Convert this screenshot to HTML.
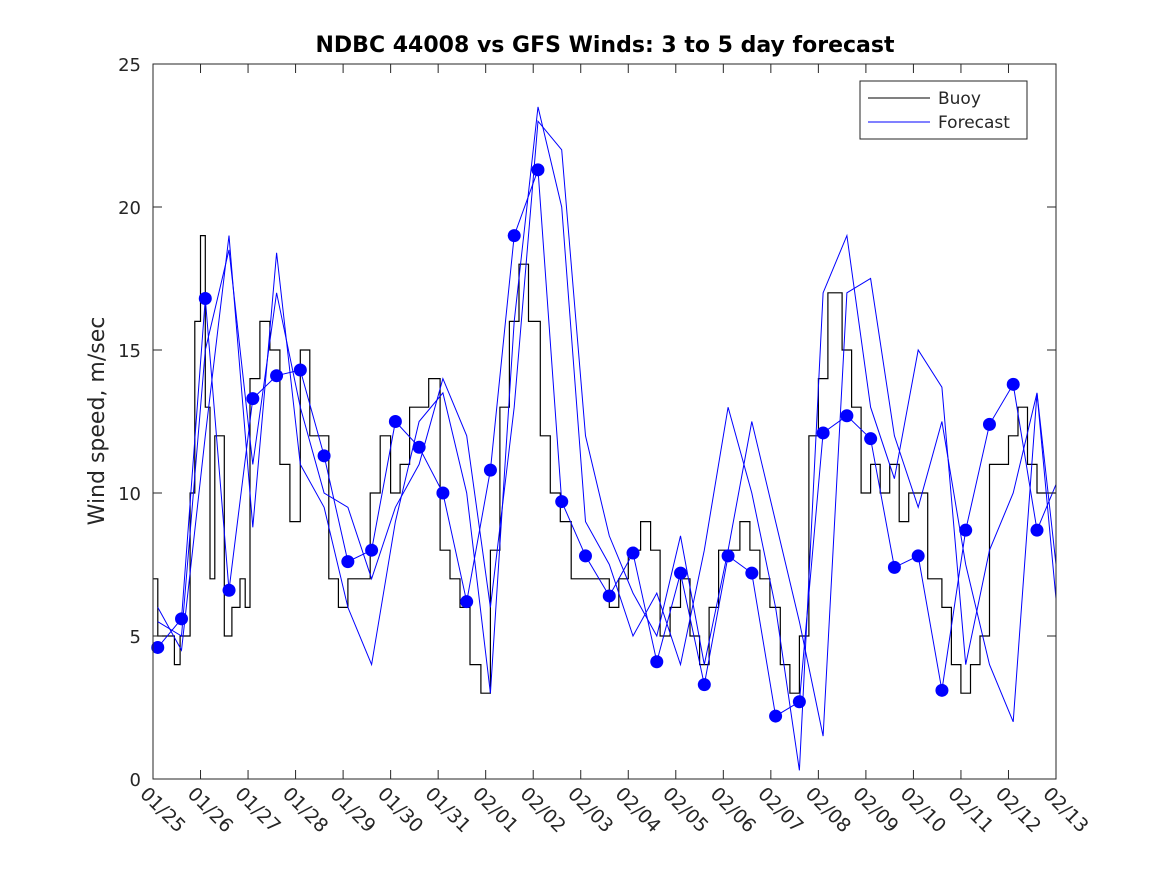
<!DOCTYPE html>
<html><head><meta charset="utf-8"><style>
body{margin:0;background:#fff;}
svg text{font-family:"DejaVu Sans","Liberation Sans",sans-serif;fill:#262626;}
</style></head><body>
<svg id="chart" width="1167" height="875" xmlns="http://www.w3.org/2000/svg">
<rect width="1167" height="875" fill="#fff"/>
<g id="plot"></g>
<rect x="153" y="64" width="903" height="715" fill="none" stroke="#262626" stroke-width="1"/>
<g id="axes"></g>
<text x="605" y="52" text-anchor="middle" font-size="22" font-weight="bold" style="fill:#000">NDBC 44008 vs GFS Winds: 3 to 5 day forecast</text>
<text transform="translate(104,421) rotate(-90)" text-anchor="middle" font-size="22">Wind speed, m/sec</text>
<g>
<rect x="860" y="81" width="167" height="58" fill="#fff" stroke="#262626" stroke-width="1"/>
<line x1="868" y1="98" x2="930" y2="98" stroke="#000"/>
<text x="938" y="104" font-size="17">Buoy</text>
<line x1="868" y1="122" x2="930" y2="122" stroke="#0000ff"/>
<text x="938" y="128" font-size="17">Forecast</text>
</g>
</svg>
<script>
const dateLabels=["01/25","01/26","01/27","01/28","01/29","01/30","01/31","02/01","02/02","02/03","02/04","02/05","02/06","02/07","02/08","02/09","02/10","02/11","02/12","02/13"];
const yTicks=[0,5,10,15,20,25];
const buoyT=[0,0.1,0.25,0.45,0.57,0.78,0.88,1.0,1.1,1.2,1.3,1.4,1.5,1.66,1.83,1.94,2.04,2.25,2.46,2.67,2.88,3.1,3.3,3.5,3.7,3.9,4.1,4.3,4.57,4.78,5.0,5.2,5.4,5.6,5.8,6.04,6.25,6.46,6.67,6.9,7.1,7.3,7.5,7.7,7.9,8.15,8.36,8.57,8.8,9.0,9.2,9.4,9.6,9.8,10.0,10.26,10.47,10.67,10.88,11.1,11.3,11.5,11.7,11.9,12.1,12.35,12.56,12.77,12.98,13.2,13.4,13.6,13.8,14.0,14.2,14.5,14.7,14.9,15.1,15.3,15.5,15.7,15.9,16.1,16.3,16.6,16.8,17.0,17.2,17.4,17.6,17.8,18.0,18.2,18.4,18.6,19.0];
const buoyV=[7,5,5,4,5,10,16,19,13,7,12,12,5,6,7,6,14,16,15,11,9,15,12,12,7,6,7,7,10,12,10,11,13,13,14,8,7,6,4,3,8,13,16,18,16,12,10,9,7,7,7,7,6,7,8,9,8,5,6,7,5,4,6,8,8,9,8,7,6,4,3,5,12,14,17,15,13,10,11,10,11,9,10,10,7,6,4,3,4,5,11,11,12,13,11,10,10];
const fcT=[0.1,0.6,1.1,1.6,2.1,2.6,3.1,3.6,4.1,4.6,5.1,5.6,6.1,6.6,7.1,7.6,8.1,8.6,9.1,9.6,10.1,10.6,11.1,11.6,12.1,12.6,13.1,13.6,14.1,14.6,15.1,15.6,16.1,16.6,17.1,17.6,18.1,18.6,19.0];
const fcDots=[4.6,5.6,16.8,6.6,13.3,14.1,14.3,11.3,7.6,8.0,12.5,11.6,10.0,6.2,10.8,19.0,21.3,9.7,7.8,6.4,7.9,4.1,7.2,3.3,7.8,7.2,2.2,2.7,12.1,12.7,11.9,7.4,7.8,3.1,8.7,12.4,13.8,8.7,10.3];
const fcB=[5.5,5,15,18.5,11,17,13,10,9.5,7,9.5,11,14,12,6,13,23,22,12,8.5,6.5,5,8.5,4,8,12.5,9,5.5,1.5,17,17.5,12,9.5,12.5,7.5,4,2,13.5,7.5];
const fcC=[6,4.5,12,19,8.8,18.4,11,9.5,6,4,9,12.5,13.5,10,3,16,23.5,20,9,7.5,5,6.5,4,8,13,10,6,0.3,17,19,13,10.5,15,13.7,4,8,10,13.5,6.3];
const X=t=>153+t*903/19, Y=v=>779-v*715/25;
const NS="http://www.w3.org/2000/svg";
const plot=document.getElementById('plot'), axes=document.getElementById('axes');
function mk(tag,attrs,parent){const e=document.createElementNS(NS,tag);for(const k in attrs)e.setAttribute(k,attrs[k]);parent.appendChild(e);return e;}
let d="";buoyT.forEach((t,i)=>{d+=(i?"H"+X(t).toFixed(1)+"V":"M"+X(t).toFixed(1)+",")+Y(buoyV[i]).toFixed(1);});
let p=mk('path',{d:d,fill:'none',stroke:'#000','stroke-width':1.2},plot);


[fcB,fcC,fcDots].forEach((s,j)=>{
  const pts=fcT.map((t,i)=>X(t).toFixed(1)+","+Y(s[i]).toFixed(1)).join(" ");
  const l=mk('polyline',{points:pts,fill:'none',stroke:'#0000ff','stroke-width':1},plot);
  
  
});
fcDots.forEach((v,i)=>{
  if(fcT[i]>18.9)return;
  const c=mk('circle',{cx:X(fcT[i]),cy:Y(v),r:6.5,fill:'#0000ff'},plot);
  
  
});
yTicks.forEach(v=>{
  const y=Y(v);
  const a=mk('line',{x1:153,y1:y,x2:162,y2:y,stroke:'#262626'},axes);
  
  
  const b=mk('line',{x1:1047,y1:y,x2:1056,y2:y,stroke:'#262626'},axes);
  
  
  const t=mk('text',{x:141,y:y+7,'text-anchor':'end','font-size':18},axes);
  t.textContent=v;
  
  
});
dateLabels.forEach((s,i)=>{
  const x=X(i);
  const a=mk('line',{x1:x,y1:779,x2:x,y2:770,stroke:'#262626'},axes);
  
  
  const b=mk('line',{x1:x,y1:64,x2:x,y2:73,stroke:'#262626'},axes);
  
  
  const t=mk('text',{transform:`translate(${x-14},${795}) rotate(45)`,'font-size':19},axes);
  t.textContent=s;
  
  
});
</script>
</body></html>
